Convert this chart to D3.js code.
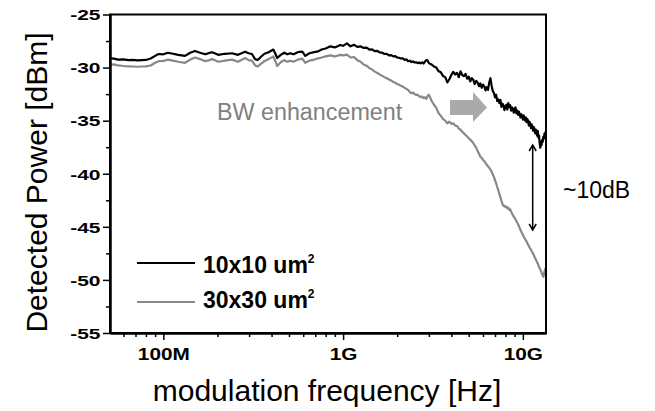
<!DOCTYPE html>
<html>
<head>
<meta charset="utf-8">
<script src="https://cdn.jsdelivr.net/npm/d3@7"></script>
<style>
  body { margin: 0; background: #fff; }
  svg { display: block; font-family: Arial, "Liberation Sans", sans-serif; }
</style>
</head>
<body>
<div id="chart"></div>
<script>
// datos (frecuencia en GHz, potencia en dBm)
const freqGHz = [
  0.050, 0.053, 0.056, 0.060, 0.064, 0.068, 0.072, 0.076, 0.080, 0.085,
  0.090, 0.094, 0.100, 0.106, 0.113, 0.121, 0.132, 0.141, 0.150, 0.160,
  0.171, 0.180, 0.187, 0.202, 0.220, 0.241, 0.260, 0.285, 0.298, 0.311,
  0.324, 0.335, 0.346, 0.365, 0.385, 0.409, 0.420, 0.430, 0.450, 0.470,
  0.490, 0.508, 0.530, 0.560, 0.593, 0.616, 0.650, 0.690, 0.718, 0.760,
  0.800, 0.849, 0.900, 0.964, 1.000, 1.050, 1.100, 1.150,
  1.20, 1.25, 1.30, 1.35, 1.40, 1.45, 1.50, 1.55, 1.60, 1.65,
  1.70, 1.75, 1.80, 1.85, 1.90, 1.95, 2.00, 2.05, 2.10, 2.15,
  2.20, 2.25, 2.30, 2.35, 2.40, 2.45, 2.50, 2.55, 2.60, 2.65,
  2.70, 2.75, 2.80, 2.85, 2.90, 2.95, 3.00,
  3.1, 3.2, 3.3, 3.4, 3.5, 3.6, 3.7, 3.8, 3.9, 4.0,
  4.1, 4.2, 4.3, 4.4, 4.5, 4.6, 4.7, 4.8, 4.9, 5.0,
  5.1, 5.2, 5.3, 5.4, 5.5, 5.6, 5.7, 5.8, 5.9, 6.0,
  6.1, 6.2, 6.3, 6.4, 6.5, 6.6, 6.7, 6.8, 6.9, 7.0,
  7.1, 7.2, 7.3, 7.4, 7.5, 7.6, 7.7, 7.8, 7.9, 8.0,
  8.1, 8.2, 8.3, 8.4, 8.5, 8.6, 8.7, 8.8, 8.9, 9.0,
  9.1, 9.2, 9.3, 9.4, 9.5, 9.6, 9.7, 9.8, 9.9, 10.0,
  10.1, 10.2, 10.3, 10.4, 10.5, 10.6, 10.7, 10.8, 10.9, 11.0,
  11.1, 11.2, 11.3, 11.4, 11.5, 11.6, 11.7, 11.8, 11.9, 12.0,
  12.1, 12.2, 12.3, 12.4, 12.5, 12.6, 12.7, 12.8, 12.9, 13.0,
  13.1, 13.2, 13.3, 13.4
];

const power10x10 = [
  -29.10, -29.15, -29.25, -29.22, -29.30, -29.28, -29.32, -29.30, -29.28, -29.15,
  -28.90, -28.72, -28.75, -28.60, -28.70, -28.80, -28.90, -28.60, -28.43, -28.60,
  -28.75, -28.62, -28.56, -28.80, -28.70, -28.65, -28.80, -28.50, -28.65, -28.72,
  -29.20, -29.28, -29.05, -28.70, -28.55, -28.30, -28.70, -29.10, -28.80, -28.60,
  -28.75, -28.65, -28.75, -28.55, -28.50, -28.90, -28.65, -28.55, -28.50, -28.30,
  -28.20, -28.00, -28.10, -27.87, -27.95, -27.72, -28.00, -27.85,
  -28.05, -28.00, -28.15, -28.12, -28.30, -28.28, -28.45, -28.42, -28.58, -28.60,
  -28.72, -28.70, -28.85, -28.82, -28.95, -28.92, -29.05, -29.08, -29.15, -29.12,
  -29.28, -29.22, -29.40, -29.35, -29.48, -29.42, -29.52, -29.50, -29.58, -29.52,
  -29.60, -29.50, -29.62, -29.45, -29.30, -29.32, -29.58,
  -29.70, -29.90, -30.00, -30.35, -30.45, -30.80, -30.90, -31.40, -31.10, -30.70,
  -30.40, -30.65, -30.50, -30.90, -30.35, -30.70, -30.80, -30.60, -31.05, -30.85,
  -31.30, -31.00, -31.15, -31.55, -31.25, -31.40, -31.75, -31.50, -31.90, -31.60,
  -31.75, -32.15, -31.85, -32.10, -31.40, -31.00, -31.70, -32.20, -32.40, -32.80,
  -32.55, -33.15, -33.00, -33.35, -33.05, -33.70, -33.40, -33.55, -34.00, -33.65,
  -33.50, -33.95, -33.35, -33.70, -33.55, -34.05, -33.75, -33.85, -34.25, -33.90,
  -33.75, -34.30, -34.05, -34.45, -34.15, -34.35, -34.70, -34.40, -34.55, -34.90,
  -34.50, -34.75, -35.00, -34.70, -35.15, -34.85, -35.05, -35.45, -35.10, -35.35,
  -35.70, -35.35, -35.55, -35.95, -35.60, -35.80, -36.20, -35.85, -36.05, -36.40,
  -35.95, -36.60, -36.40, -37.10, -37.55, -37.00, -37.30, -36.80, -37.00, -36.50,
  -36.70, -36.20, -36.40, -36.00
];

const power30x30 = [
  -29.75, -29.70, -29.80, -29.85, -29.88, -29.90, -29.92, -29.90, -29.88, -29.80,
  -29.55, -29.40, -29.38, -29.25, -29.35, -29.45, -29.55, -29.25, -29.05, -29.20,
  -29.40, -29.30, -29.20, -29.45, -29.35, -29.25, -29.45, -29.10, -29.30, -29.35,
  -29.80, -29.90, -29.70, -29.40, -29.20, -28.95, -29.40, -29.85, -29.50, -29.30,
  -29.45, -29.35, -29.45, -29.25, -29.15, -29.55, -29.35, -29.25, -29.15, -29.05,
  -28.95, -28.85, -28.95, -28.80, -28.85, -28.78, -29.05, -29.00,
  -29.30, -29.45, -29.70, -29.82, -30.05, -30.18, -30.38, -30.50, -30.65, -30.78,
  -30.90, -31.00, -31.12, -31.22, -31.35, -31.42, -31.55, -31.62, -31.72, -31.80,
  -31.92, -32.00, -32.12, -32.30, -32.42, -32.35, -32.50, -32.58, -32.55, -32.70,
  -32.78, -32.72, -32.88, -32.80, -32.95, -32.70, -32.55,
  -33.10, -33.50, -33.80, -34.30, -34.55, -34.85, -35.00, -35.25, -35.10, -35.30,
  -35.25, -35.45, -35.50, -35.75, -35.85, -36.05, -36.20, -36.35, -36.50, -36.65,
  -36.80, -36.95, -37.10, -37.35, -37.55, -37.85, -38.10, -38.40, -38.50, -38.70,
  -38.80, -39.00, -39.15, -39.30, -39.45, -39.60, -39.80, -40.05, -40.30, -40.60,
  -40.90, -41.25, -41.55, -41.90, -42.20, -42.55, -42.85, -43.05, -43.00, -43.15,
  -43.10, -43.25, -43.20, -43.40, -43.35, -43.55, -43.75, -43.90, -44.05, -44.15,
  -44.30, -44.45, -44.60, -44.75, -44.90, -45.10, -45.30, -45.45, -45.60, -45.75,
  -45.90, -46.05, -46.15, -46.30, -46.40, -46.55, -46.70, -46.80, -46.95, -47.05,
  -47.15, -47.30, -47.40, -47.55, -47.65, -47.80, -47.95, -48.05, -48.20, -48.35,
  -48.45, -48.60, -48.75, -48.90, -49.00, -49.15, -49.30, -49.45, -49.60, -49.70,
  -49.50, -49.20, -49.00, -48.90
];

const xMajorTicks = [0.1, 1, 10];
const xMajorLabels = ["100M", "1G", "10G"];
const xMinorTicks = [0.06, 0.07, 0.08, 0.09, 0.2, 0.3, 0.4, 0.5, 0.6, 0.7, 0.8, 0.9,
                     2, 3, 4, 5, 6, 7, 8, 9];
const yMajorTicks = [-55, -50, -45, -40, -35, -30, -25];
const yMajorLabels = ["-55", "-50", "-45", "-40", "-35", "-30", "-25"];
const yMinorTicks = [-52.5, -47.5, -42.5, -37.5, -32.5, -27.5];
const seriesNames = ["10x10 um", "30x30 um"];

// Configuracion
const W = 655, H = 411;
const margin = {top: 14.5, right: 109, bottom: 78, left: 110};
const innerW = W - margin.left - margin.right,
      innerH = H - margin.top - margin.bottom;

const svg = d3.select("#chart").append("svg")
  .attr("width", W).attr("height", H);

const g = svg.append("g")
  .attr("transform", `translate(${margin.left},${margin.top})`);

const x = d3.scaleLog().domain([0.0505, 13.45]).range([0, innerW]);
const y = d3.scaleLinear().domain([-55, -25]).range([innerH, 0]);

g.append("clipPath").attr("id", "clip")
  .append("rect").attr("width", innerW).attr("height", innerH);

// curvas
const line = d3.line()
  .x((d, i) => x(freqGHz[i]))
  .y(d => y(d));

g.append("path")
  .datum(power30x30)
  .attr("clip-path", "url(#clip)")
  .attr("fill", "none")
  .attr("stroke", "#888")
  .attr("stroke-width", 2.2)
  .attr("stroke-linejoin", "round")
  .attr("d", line);

g.append("path")
  .datum(power10x10)
  .attr("clip-path", "url(#clip)")
  .attr("fill", "none")
  .attr("stroke", "#000")
  .attr("stroke-width", 2.2)
  .attr("stroke-linejoin", "round")
  .attr("d", line);

// ejes
const xAxis = g.append("g").attr("transform", `translate(0,${innerH})`)
  .call(d3.axisBottom(x).tickValues(xMajorTicks).tickSize(7).tickSizeOuter(0)
    .tickFormat((d, i) => xMajorLabels[i]));
g.append("g").attr("transform", `translate(0,${innerH})`)
  .call(d3.axisBottom(x).tickValues(xMinorTicks).tickSize(4).tickSizeOuter(0).tickFormat(""));

const yAxis = g.append("g")
  .call(d3.axisLeft(y).tickValues(yMajorTicks).tickSize(7).tickSizeOuter(0)
    .tickFormat((d, i) => yMajorLabels[i]));
g.append("g")
  .call(d3.axisLeft(y).tickValues(yMinorTicks).tickSize(4).tickSizeOuter(0).tickFormat(""));

g.selectAll(".domain").attr("stroke", "#000").attr("stroke-width", 2);
g.selectAll(".tick line").attr("stroke", "#000").attr("stroke-width", 1.5);

xAxis.selectAll("text")
  .attr("y", 16).attr("dy", "0.71em")
  .style("font-size", "16px").style("font-weight", "bold").attr("fill", "#000")
  .attr("transform", "scale(1.3,1)");
yAxis.selectAll("text")
  .attr("x", -9.5 / 1.4).attr("dy", "0.35em")
  .style("font-size", "15px").style("font-weight", "bold").attr("fill", "#000")
  .attr("transform", "scale(1.4,1)");

// marco
g.append("rect")
  .attr("width", innerW).attr("height", innerH)
  .attr("fill", "none").attr("stroke", "#000").attr("stroke-width", 2);

// titulos de ejes
svg.append("text")
  .attr("x", 327).attr("y", 401)
  .attr("text-anchor", "middle")
  .style("font-size", "30px")
  .text("modulation frequency [Hz]");

svg.append("text")
  .attr("transform", "translate(47,182.5) rotate(-90)")
  .attr("text-anchor", "middle")
  .style("font-size", "30px")
  .text("Detected Power [dBm]");

// leyenda
const legend = svg.append("g");
[["#000", 263, 273], ["#888", 302, 308]].forEach((s, i) => {
  legend.append("line")
    .attr("x1", 137).attr("x2", 195).attr("y1", s[1]).attr("y2", s[1])
    .attr("stroke", s[0]).attr("stroke-width", 2);
  const t = legend.append("text")
    .attr("x", 203).attr("y", s[2])
    .style("font-size", "23px").style("font-weight", "bold")
    .text(seriesNames[i]);
  t.append("tspan").attr("dy", -10).style("font-size", "12px").text("2");
});

// anotaciones
svg.append("text")
  .attr("x", 217).attr("y", 120)
  .attr("fill", "#808080")
  .style("font-size", "23.3px")
  .text("BW enhancement");

svg.append("path")
  .attr("d", "M450,100 L473,100 L473,92 L487,107.5 L473,122 L473,115 L450,115 Z")
  .attr("fill", "#aaa");

const ax = 532.7;
svg.append("line")
  .attr("x1", ax).attr("x2", ax).attr("y1", 145).attr("y2", 230)
  .attr("stroke", "#000").attr("stroke-width", 1.5);
svg.append("path")
  .attr("d", `M${ax - 3.5},151 L${ax},145 L${ax + 3.5},151 M${ax - 3.5},224 L${ax},230 L${ax + 3.5},224`)
  .attr("fill", "none").attr("stroke", "#000").attr("stroke-width", 1.5);

svg.append("text")
  .attr("x", 563).attr("y", 198)
  .style("font-size", "23px")
  .text("~10dB");
</script>
</body>
</html>
